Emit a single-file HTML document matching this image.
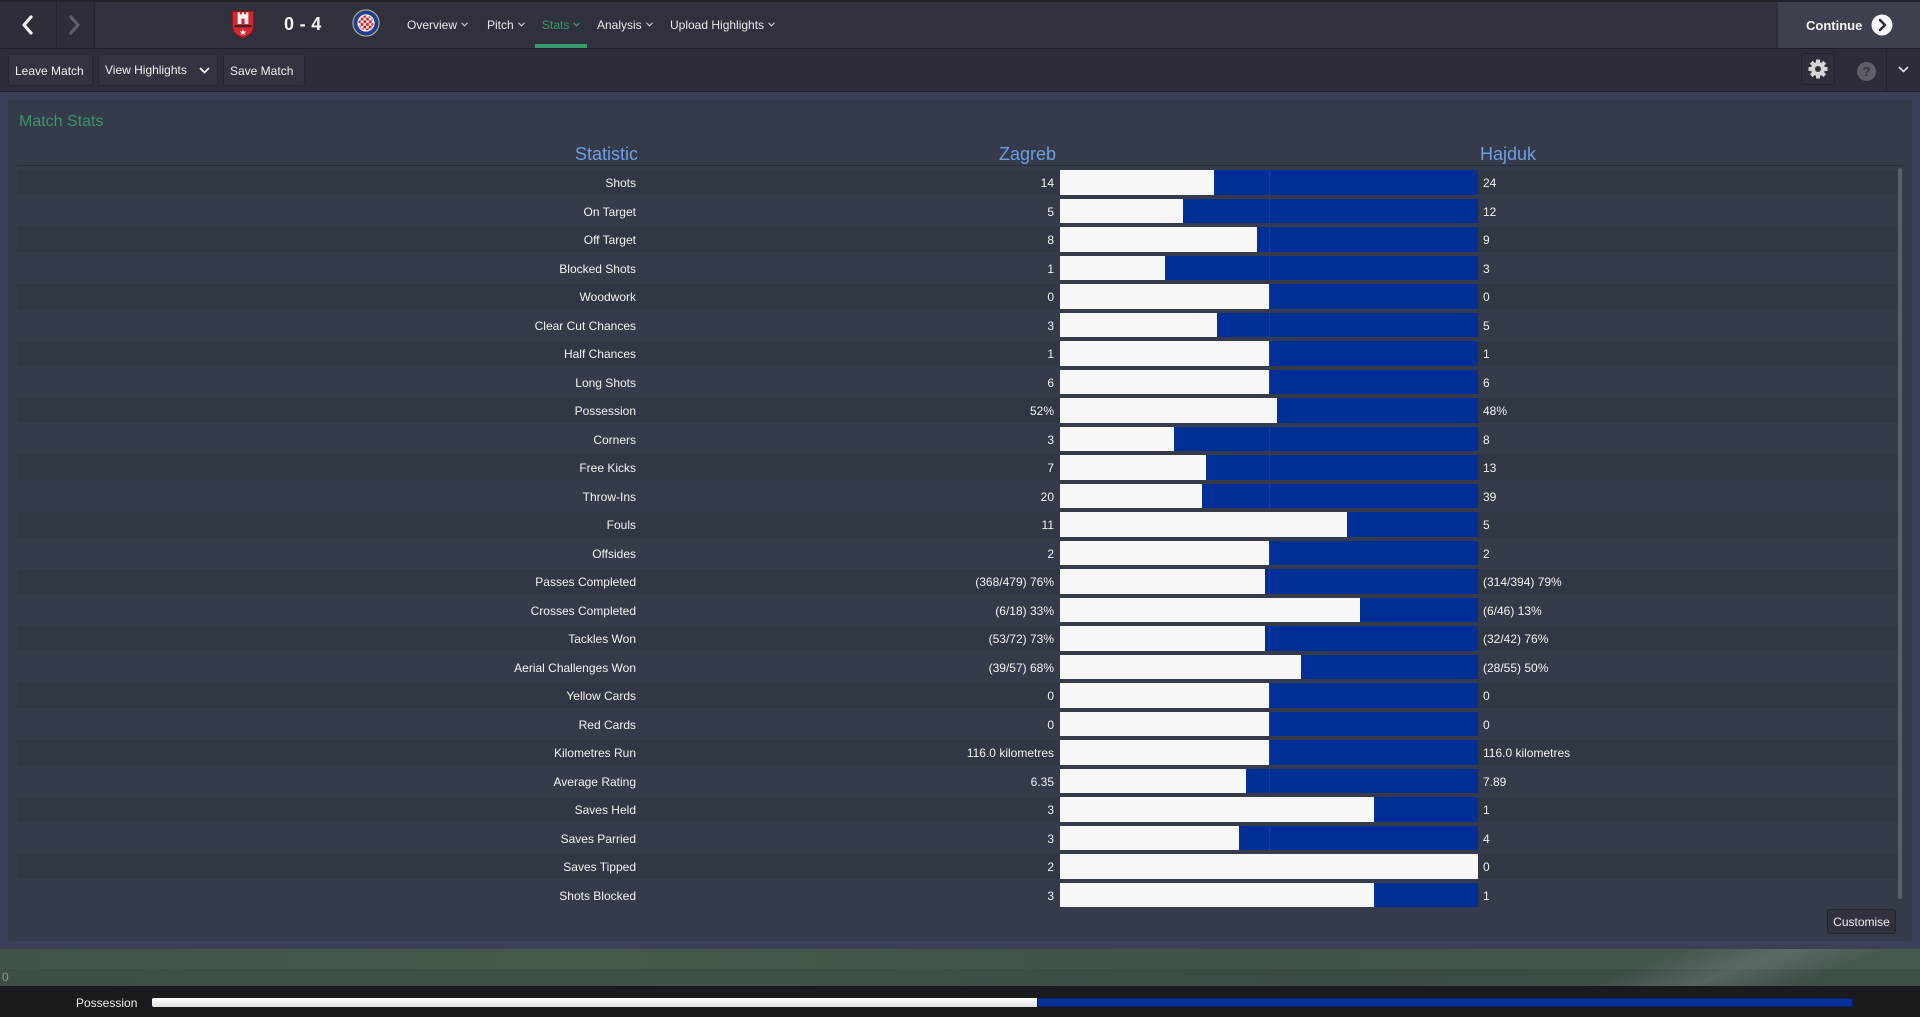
<!DOCTYPE html>
<html><head><meta charset="utf-8">
<style>
*{box-sizing:border-box}
html,body{margin:0;padding:0}
body{width:1920px;height:1017px;overflow:hidden;position:relative;background:#3b4058;font-family:"Liberation Sans",sans-serif;color:#f2f2f2}
.a{position:absolute}
.nav{position:absolute;top:17px;font-size:12px;color:#e9e9ea;line-height:16px;white-space:nowrap}
.nav svg{margin-left:4px;vertical-align:2px}
.btn{position:absolute;top:54px;height:32px;background:#32353f;border:1px solid #25272f;border-radius:3px;font-size:12px;color:#f0f0f0;line-height:32px;padding-left:6px;white-space:nowrap}
.stripe{position:absolute;left:17px;width:1880px;height:24.5px;background:#323746}
.lbl{position:absolute;left:336px;width:300px;text-align:right;font-size:12px;line-height:26.5px;height:24.5px;color:#f3f3f3;white-space:nowrap}
.hv{position:absolute;left:854px;width:200px;text-align:right;font-size:12px;line-height:26.5px;height:24.5px;color:#f3f3f3;white-space:nowrap}
.av{position:absolute;left:1483px;width:300px;font-size:12px;line-height:26.5px;height:24.5px;color:#f3f3f3;white-space:nowrap}
.bar{position:absolute;left:1060px;width:418px;height:24.5px;background:#022f96}
.bar i{position:absolute;left:0;top:0;bottom:0;background:#f7f7f7}
.bar b{position:absolute;left:209px;top:0;bottom:0;width:1px;background:rgba(255,255,255,0.08)}
.hdr{position:absolute;top:142px;font-size:18px;color:#6c9ee3;line-height:24px;white-space:nowrap}
</style></head><body>

<!-- top bar -->
<div class="a" style="left:0;top:0;width:1920px;height:48px;background:#2f313c"></div>
<div class="a" style="left:0;top:0;width:1920px;height:2px;background:#22242a"></div>
<div class="a" style="left:0;top:48px;width:1920px;height:1px;background:#1d1f25"></div>
<div class="a" style="left:0;top:2px;width:94px;height:46px;background:#2c2e38"></div>
<div class="a" style="left:56px;top:2px;width:1px;height:46px;background:#23252d"></div>
<div class="a" style="left:94px;top:2px;width:1px;height:46px;background:#23252d"></div>
<svg class="a" style="left:19px;top:15px" width="18" height="20" viewBox="0 0 18 20"><polyline points="12,2 5,10 12,18" fill="none" stroke="#f4f4f4" stroke-width="3.2" stroke-linecap="round" stroke-linejoin="round"/></svg>
<svg class="a" style="left:66px;top:15px" width="18" height="20" viewBox="0 0 18 20"><polyline points="5,2 12,10 5,18" fill="none" stroke="#5d5f68" stroke-width="3.2" stroke-linecap="round" stroke-linejoin="round"/></svg>

<!-- crest zagreb -->
<svg class="a" style="left:231px;top:8px" width="24" height="31" viewBox="0 0 22 29">
<path d="M1,3 L21,3 L21,17 Q21,25 11,28 Q1,25 1,17 Z" fill="#d3262e" stroke="#7a1015" stroke-width="0.8"/>
<rect x="6" y="6" width="10" height="9" fill="#f1f1f1"/>
<rect x="6" y="4" width="2" height="3" fill="#f1f1f1"/><rect x="10" y="4" width="2" height="3" fill="#f1f1f1"/><rect x="14" y="4" width="2" height="3" fill="#f1f1f1"/>
<rect x="9.5" y="10" width="3" height="5" fill="#d3262e"/>
<rect x="3" y="16" width="16" height="2" fill="#2a2a2a"/>
<path d="M11,20 l1,2 l2,0 l-1.5,1.3 l0.6,2 l-2.1,-1.2 l-2.1,1.2 l0.6,-2 l-1.5,-1.3 l2,0z" fill="#fff"/>
</svg>
<div class="a" style="left:284px;top:12px;font-size:18px;font-weight:bold;color:#f4f4f4;line-height:24px;letter-spacing:0.3px;white-space:nowrap">0 - 4</div>
<!-- crest hajduk -->
<svg class="a" style="left:352px;top:9px" width="28" height="28" viewBox="0 0 28 28">
<defs><clipPath id="cc"><circle cx="14" cy="14" r="7.5"/></clipPath></defs>
<circle cx="14" cy="14" r="13.6" fill="#c9b98a"/>
<circle cx="14" cy="14" r="12.6" fill="#1f3f93"/>
<circle cx="14" cy="14" r="8.6" fill="#f2f2f2"/>
<g clip-path="url(#cc)">
<rect x="6" y="6" width="16" height="16" fill="#f4f4f4"/>
<g fill="#d7212b">
<rect x="6" y="6" width="2.7" height="2.7"/><rect x="11.4" y="6" width="2.7" height="2.7"/><rect x="16.8" y="6" width="2.7" height="2.7"/>
<rect x="8.7" y="8.7" width="2.7" height="2.7"/><rect x="14.1" y="8.7" width="2.7" height="2.7"/><rect x="19.5" y="8.7" width="2.7" height="2.7"/>
<rect x="6" y="11.4" width="2.7" height="2.7"/><rect x="11.4" y="11.4" width="2.7" height="2.7"/><rect x="16.8" y="11.4" width="2.7" height="2.7"/>
<rect x="8.7" y="14.1" width="2.7" height="2.7"/><rect x="14.1" y="14.1" width="2.7" height="2.7"/><rect x="19.5" y="14.1" width="2.7" height="2.7"/>
<rect x="6" y="16.8" width="2.7" height="2.7"/><rect x="11.4" y="16.8" width="2.7" height="2.7"/><rect x="16.8" y="16.8" width="2.7" height="2.7"/>
<rect x="8.7" y="19.5" width="2.7" height="2.7"/><rect x="14.1" y="19.5" width="2.7" height="2.7"/>
</g></g>
</svg>

<div class="nav" style="left:407px">Overview<svg width="7" height="5" viewBox="0 0 7 5"><polyline points="0.5,0.8 3.5,3.8 6.5,0.8" fill="none" stroke="#c8c9cc" stroke-width="1.1"/></svg></div>
<div class="nav" style="left:487px">Pitch<svg width="7" height="5" viewBox="0 0 7 5"><polyline points="0.5,0.8 3.5,3.8 6.5,0.8" fill="none" stroke="#c8c9cc" stroke-width="1.1"/></svg></div>
<div class="nav" style="left:542px;color:#3b9a6c">Stats<svg width="7" height="5" viewBox="0 0 7 5"><polyline points="0.5,0.8 3.5,3.8 6.5,0.8" fill="none" stroke="#3b9a6c" stroke-width="1.1"/></svg></div>
<div class="a" style="left:535px;top:44px;width:52px;height:4px;background:#3a9a6d"></div>
<div class="nav" style="left:597px">Analysis<svg width="7" height="5" viewBox="0 0 7 5"><polyline points="0.5,0.8 3.5,3.8 6.5,0.8" fill="none" stroke="#c8c9cc" stroke-width="1.1"/></svg></div>
<div class="nav" style="left:670px">Upload Highlights<svg width="7" height="5" viewBox="0 0 7 5"><polyline points="0.5,0.8 3.5,3.8 6.5,0.8" fill="none" stroke="#c8c9cc" stroke-width="1.1"/></svg></div>

<!-- continue -->
<div class="a" style="left:1778px;top:2px;width:142px;height:46px;background:#3d404e"></div>
<div class="a" style="left:1806px;top:18px;font-size:13px;font-weight:bold;color:#f5f5f5;line-height:16px">Continue</div>
<svg class="a" style="left:1871px;top:14px" width="22" height="22" viewBox="0 0 22 22"><circle cx="11" cy="11" r="10.5" fill="#f7f7f7"/><polyline points="9,6 14,11 9,16" fill="none" stroke="#2d2f3a" stroke-width="2.6" stroke-linecap="round" stroke-linejoin="round"/></svg>

<!-- toolbar -->
<div class="a" style="left:0;top:49px;width:1920px;height:42px;background:#2b2d38"></div>
<div class="a" style="left:0;top:91px;width:1920px;height:1px;background:#1f2128"></div>
<div class="btn" style="left:8px;width:85px;line-height:33px">Leave Match</div>
<div class="btn" style="left:98px;width:120px;line-height:30px">View Highlights<svg class="a" style="left:100px;top:12px" width="11" height="7" viewBox="0 0 11 7"><polyline points="1,1 5.5,5.5 10,1" fill="none" stroke="#eeeeee" stroke-width="1.8"/></svg></div>
<div class="btn" style="left:223px;width:82px;line-height:33px">Save Match</div>
<div class="a" style="left:1801px;top:53px;width:34px;height:32px;background:#2d303a;border:1px solid #23252d;border-radius:3px"></div>
<svg class="a" style="left:1808px;top:59px" width="20" height="20" viewBox="0 0 20 20">
<g fill="#d6d6d6" transform="translate(10,10)">
<rect x="-2" y="-9.5" width="4" height="19"/><rect x="-2" y="-9.5" width="4" height="19" transform="rotate(45)"/><rect x="-2" y="-9.5" width="4" height="19" transform="rotate(90)"/><rect x="-2" y="-9.5" width="4" height="19" transform="rotate(135)"/>
<circle r="7"/></g><circle cx="10" cy="10" r="3" fill="#2d303a"/></svg>
<div class="a" style="left:1857px;top:62px;width:19px;height:19px;border-radius:50%;background:#5e6068;color:#34363e;font-size:13px;font-weight:bold;text-align:center;line-height:19px">?</div>
<div class="a" style="left:1886px;top:49px;width:1px;height:42px;background:#23252d"></div>
<svg class="a" style="left:1898px;top:66px" width="11" height="7" viewBox="0 0 11 7"><polyline points="1,1 5.5,5.5 10,1" fill="none" stroke="#e0e0e0" stroke-width="1.6"/></svg>

<!-- panel -->
<div class="a" style="left:8px;top:100px;width:1904px;height:841px;background:#363b4b;border-radius:4px"></div>
<div class="a" style="left:19px;top:112px;font-size:16px;color:#3a9567;line-height:20px">Match Stats</div>

<div class="hdr" style="left:338px;width:300px;text-align:right">Statistic</div>
<div class="hdr" style="left:756px;width:300px;text-align:right">Zagreb</div>
<div class="hdr" style="left:1480px">Hajduk</div>
<div class="a" style="left:17px;top:165px;width:1886px;height:1px;background:#2a2e3a"></div>

<!-- stripes -->
<div class="stripe" style="top:170px"></div>
<div class="stripe" style="top:227px"></div>
<div class="stripe" style="top:284px"></div>
<div class="stripe" style="top:341px"></div>
<div class="stripe" style="top:398px"></div>
<div class="stripe" style="top:455px"></div>
<div class="stripe" style="top:512px"></div>
<div class="stripe" style="top:569px"></div>
<div class="stripe" style="top:626px"></div>
<div class="stripe" style="top:683px"></div>
<div class="stripe" style="top:740px"></div>
<div class="stripe" style="top:797px"></div>
<div class="stripe" style="top:854px"></div>

<div class="a" style="left:1898px;top:168px;width:4px;height:731px;background:#5c606d;border-radius:2px"></div>

<!-- rows -->
<div class="lbl" style="top:170px">Shots</div><div class="hv" style="top:170px">14</div><div class="bar" style="top:170px"><i style="width:154px"></i><b></b></div><div class="av" style="top:170px">24</div>
<div class="lbl" style="top:198.5px">On Target</div><div class="hv" style="top:198.5px">5</div><div class="bar" style="top:198.5px"><i style="width:123px"></i><b></b></div><div class="av" style="top:198.5px">12</div>
<div class="lbl" style="top:227px">Off Target</div><div class="hv" style="top:227px">8</div><div class="bar" style="top:227px"><i style="width:197px"></i><b></b></div><div class="av" style="top:227px">9</div>
<div class="lbl" style="top:255.5px">Blocked Shots</div><div class="hv" style="top:255.5px">1</div><div class="bar" style="top:255.5px"><i style="width:104.5px"></i><b></b></div><div class="av" style="top:255.5px">3</div>
<div class="lbl" style="top:284px">Woodwork</div><div class="hv" style="top:284px">0</div><div class="bar" style="top:284px"><i style="width:209px"></i><b></b></div><div class="av" style="top:284px">0</div>
<div class="lbl" style="top:312.5px">Clear Cut Chances</div><div class="hv" style="top:312.5px">3</div><div class="bar" style="top:312.5px"><i style="width:157px"></i><b></b></div><div class="av" style="top:312.5px">5</div>
<div class="lbl" style="top:341px">Half Chances</div><div class="hv" style="top:341px">1</div><div class="bar" style="top:341px"><i style="width:209px"></i><b></b></div><div class="av" style="top:341px">1</div>
<div class="lbl" style="top:369.5px">Long Shots</div><div class="hv" style="top:369.5px">6</div><div class="bar" style="top:369.5px"><i style="width:209px"></i><b></b></div><div class="av" style="top:369.5px">6</div>
<div class="lbl" style="top:398px">Possession</div><div class="hv" style="top:398px">52%</div><div class="bar" style="top:398px"><i style="width:217px"></i><b></b></div><div class="av" style="top:398px">48%</div>
<div class="lbl" style="top:426.5px">Corners</div><div class="hv" style="top:426.5px">3</div><div class="bar" style="top:426.5px"><i style="width:114px"></i><b></b></div><div class="av" style="top:426.5px">8</div>
<div class="lbl" style="top:455px">Free Kicks</div><div class="hv" style="top:455px">7</div><div class="bar" style="top:455px"><i style="width:146px"></i><b></b></div><div class="av" style="top:455px">13</div>
<div class="lbl" style="top:483.5px">Throw-Ins</div><div class="hv" style="top:483.5px">20</div><div class="bar" style="top:483.5px"><i style="width:142px"></i><b></b></div><div class="av" style="top:483.5px">39</div>
<div class="lbl" style="top:512px">Fouls</div><div class="hv" style="top:512px">11</div><div class="bar" style="top:512px"><i style="width:287px"></i><b></b></div><div class="av" style="top:512px">5</div>
<div class="lbl" style="top:540.5px">Offsides</div><div class="hv" style="top:540.5px">2</div><div class="bar" style="top:540.5px"><i style="width:209px"></i><b></b></div><div class="av" style="top:540.5px">2</div>
<div class="lbl" style="top:569px">Passes Completed</div><div class="hv" style="top:569px">(368/479) 76%</div><div class="bar" style="top:569px"><i style="width:205px"></i><b></b></div><div class="av" style="top:569px">(314/394) 79%</div>
<div class="lbl" style="top:597.5px">Crosses Completed</div><div class="hv" style="top:597.5px">(6/18) 33%</div><div class="bar" style="top:597.5px"><i style="width:300px"></i><b></b></div><div class="av" style="top:597.5px">(6/46) 13%</div>
<div class="lbl" style="top:626px">Tackles Won</div><div class="hv" style="top:626px">(53/72) 73%</div><div class="bar" style="top:626px"><i style="width:205px"></i><b></b></div><div class="av" style="top:626px">(32/42) 76%</div>
<div class="lbl" style="top:654.5px">Aerial Challenges Won</div><div class="hv" style="top:654.5px">(39/57) 68%</div><div class="bar" style="top:654.5px"><i style="width:240.5px"></i><b></b></div><div class="av" style="top:654.5px">(28/55) 50%</div>
<div class="lbl" style="top:683px">Yellow Cards</div><div class="hv" style="top:683px">0</div><div class="bar" style="top:683px"><i style="width:209px"></i><b></b></div><div class="av" style="top:683px">0</div>
<div class="lbl" style="top:711.5px">Red Cards</div><div class="hv" style="top:711.5px">0</div><div class="bar" style="top:711.5px"><i style="width:209px"></i><b></b></div><div class="av" style="top:711.5px">0</div>
<div class="lbl" style="top:740px">Kilometres Run</div><div class="hv" style="top:740px">116.0 kilometres</div><div class="bar" style="top:740px"><i style="width:209px"></i><b></b></div><div class="av" style="top:740px">116.0 kilometres</div>
<div class="lbl" style="top:768.5px">Average Rating</div><div class="hv" style="top:768.5px">6.35</div><div class="bar" style="top:768.5px"><i style="width:186px"></i><b></b></div><div class="av" style="top:768.5px">7.89</div>
<div class="lbl" style="top:797px">Saves Held</div><div class="hv" style="top:797px">3</div><div class="bar" style="top:797px"><i style="width:313.5px"></i><b></b></div><div class="av" style="top:797px">1</div>
<div class="lbl" style="top:825.5px">Saves Parried</div><div class="hv" style="top:825.5px">3</div><div class="bar" style="top:825.5px"><i style="width:179px"></i><b></b></div><div class="av" style="top:825.5px">4</div>
<div class="lbl" style="top:854px">Saves Tipped</div><div class="hv" style="top:854px">2</div><div class="bar" style="top:854px"><i style="width:418px"></i><b></b></div><div class="av" style="top:854px">0</div>
<div class="lbl" style="top:882.5px">Shots Blocked</div><div class="hv" style="top:882.5px">3</div><div class="bar" style="top:882.5px"><i style="width:313.5px"></i><b></b></div><div class="av" style="top:882.5px">1</div>

<div class="a" style="left:1827px;top:909px;width:69px;height:25px;background:#30333f;border:1px solid #23262e;border-radius:3px;font-size:12px;line-height:25px;text-align:center;color:#f0f0f0">Customise</div>

<!-- pitch strip -->
<div class="a" style="left:0;top:949px;width:1920px;height:20px;background:linear-gradient(90deg,#405548 0%,#445a4b 30%,#3f5447 60%,#425649 80%,#445a4c 100%)"></div>
<div class="a" style="left:0;top:969px;width:1920px;height:17px;background:linear-gradient(90deg,#3b4f43 0%,#3d5145 40%,#394c41 70%,#3c5044 100%)"></div>
<div class="a" style="left:1560px;top:949px;width:320px;height:37px;background:linear-gradient(160deg,rgba(0,0,0,0) 30%,rgba(120,125,135,0.45) 55%,rgba(0,0,0,0) 80%)"></div>
<div class="a" style="left:2px;top:970px;font-size:12px;color:#8f9a93;line-height:14px">0</div>

<!-- bottom bar -->
<div class="a" style="left:0;top:986px;width:1920px;height:31px;background:#1a1b1e"></div>
<div class="a" style="left:76px;top:995px;font-size:12px;color:#eeeeee;line-height:16px">Possession</div>
<div class="a" style="left:152px;top:998px;width:885px;height:9px;background:linear-gradient(#ffffff,#e2e2e2);border-radius:2px 0 0 2px"></div>
<div class="a" style="left:1037px;top:998px;width:816px;height:9px;background:#06319a;border:1px solid #02216e;border-radius:0 2px 2px 0"></div>

</body></html>
